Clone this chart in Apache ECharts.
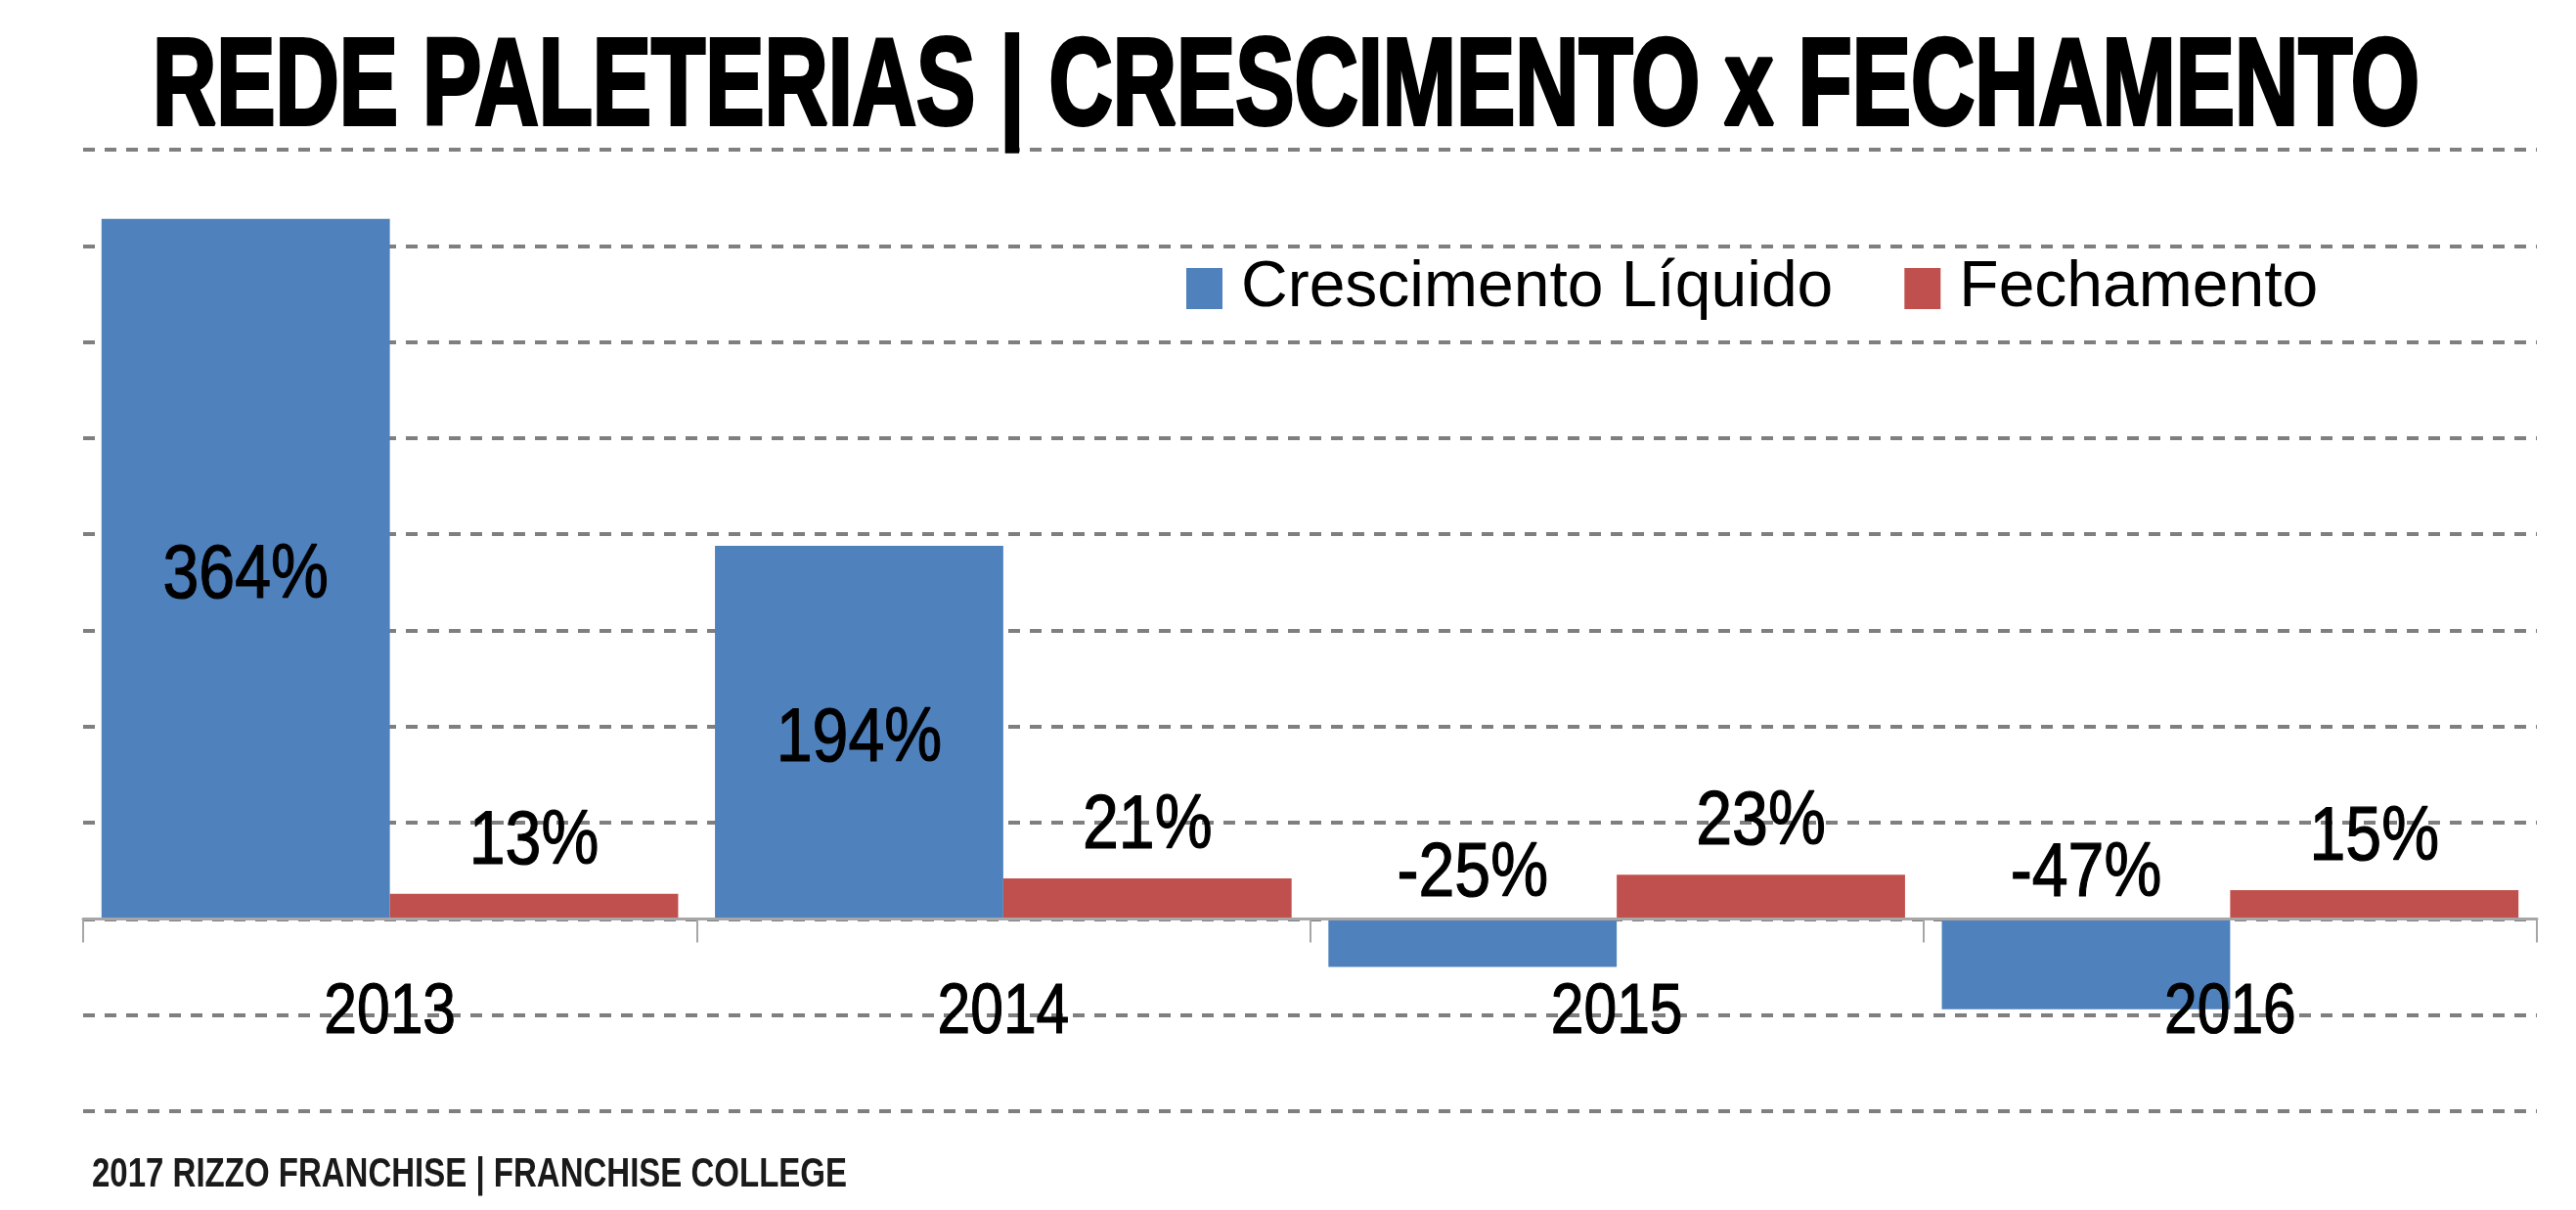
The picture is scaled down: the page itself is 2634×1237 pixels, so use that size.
<!DOCTYPE html>
<html>
<head>
<meta charset="utf-8">
<script src="https://cdn.jsdelivr.net/npm/echarts@6/dist/echarts.min.js"></script>
<style>
html,body{margin:0;padding:0;background:#fff;}
#chart{width:2634px;height:1237px;}
</style>
</head>
<body>
<div id="chart"></div>
<script>
const categories = ['2013', '2014', '2015', '2016'];
const crescimento = [364, 194, -25, -47];
const fechamento = [13, 21, 23, 15];
const seriesNames = ['Crescimento Líquido', 'Fechamento'];
const titleText = 'REDE PALETERIAS | CRESCIMENTO x FECHAMENTO';
const footerText = '2017 RIZZO FRANCHISE | FRANCHISE COLLEGE';

const SANS = '"Liberation Sans", Arial, Helvetica, sans-serif';
const CAT_GAP = 0.06;

function measure(text, font) {
  const c = document.createElement('canvas').getContext('2d');
  c.font = font;
  return c.measureText(text).width;
}
const titleFont = 'bold 126px ' + SANS;
const titleScale = 2318 / measure(titleText, titleFont);
const footerFont = 'bold 42px ' + SANS;
const footerScale = 772 / measure(footerText, footerFont);

const valueFont = '77px ' + SANS;
const catFont = '73px ' + SANS;

// label data built from the value arrays: [categoryIndex, value, seriesIndex]
const labelData = [];
categories.forEach((c, i) => {
  labelData.push([i, crescimento[i], 0]);
  labelData.push([i, fechamento[i], 1]);
});
const catLabelData = categories.map((c, i) => [i, 0]);

function renderValueLabel(params, api) {
  const i = api.value(0), v = api.value(1), s = api.value(2);
  const top = api.coord([i, v]);
  const base = api.coord([i, 0]);
  const catW = api.size([1, 0])[0];
  const barW = catW * (1 - CAT_GAP) / 2;
  const x = top[0] + (s === 0 ? -barW / 2 : barW / 2);
  let cy;
  if (s === 0 && v >= 0) cy = (top[1] + base[1]) / 2 + 2;
  else if (s === 0) cy = base[1] - 51;
  else cy = top[1] - 58;
  return {
    type: 'text',
    x: x,
    y: cy + 6,
    scaleX: 0.86,
    style: { x: 0, y: 0, text: v + '%', font: valueFont, fill: '#000', stroke: '#000', lineWidth: 1.2, align: 'center', verticalAlign: 'middle' }
  };
}

function renderCatLabel(params, api) {
  const i = api.value(0);
  const p = api.coord([i, 0]);
  return {
    type: 'text',
    x: p[0],
    y: p[1] + 90 + 6,
    scaleX: 0.83,
    style: { x: 0, y: 0, text: categories[i], font: catFont, fill: '#000', stroke: '#000', lineWidth: 1.2, align: 'center', verticalAlign: 'middle' }
  };
}

const chart = echarts.init(document.getElementById('chart'), null, { renderer: 'canvas' });
chart.setOption({
  backgroundColor: '#ffffff',
  animation: false,
  grid: { left: 85, right: 40, top: 153, bottom: 101, containLabel: false, outerBoundsMode: 'none' },
  legend: {
    left: 1208,
    top: 250,
    icon: 'rect',
    itemWidth: 37,
    itemHeight: 42,
    itemGap: 73,
    textStyle: { fontFamily: SANS, fontSize: 66, color: '#000', lineHeight: 80, padding: [0, 0, 0, 14] },
    data: seriesNames
  },
  xAxis: {
    type: 'category',
    data: categories,
    z: 10,
    axisLine: { lineStyle: { color: '#a6a6a6', width: 3 } },
    axisTick: { show: true, length: 24, lineStyle: { color: '#a6a6a6', width: 2 } },
    axisLabel: { show: false },
    splitLine: { show: false }
  },
  yAxis: {
    type: 'value',
    min: -100,
    max: 400,
    interval: 50,
    axisLine: { show: false },
    axisTick: { show: false },
    axisLabel: { show: false },
    splitLine: { show: true, lineStyle: { color: '#7f7f7f', width: 4, type: [12, 10] } }
  },
  series: [
    {
      name: seriesNames[0],
      type: 'bar',
      data: crescimento,
      barGap: '0%',
      barCategoryGap: (CAT_GAP * 100) + '%',
      itemStyle: { color: '#4F81BD' }
    },
    {
      name: seriesNames[1],
      type: 'bar',
      data: fechamento,
      barGap: '0%',
      barCategoryGap: (CAT_GAP * 100) + '%',
      itemStyle: { color: '#C0504D' }
    },
    {
      name: 'valueLabels',
      type: 'custom',
      data: labelData,
      encode: { x: 0, y: 1 },
      renderItem: renderValueLabel,
      clip: false,
      silent: true,
      z: 20
    },
    {
      name: 'categoryLabels',
      type: 'custom',
      data: catLabelData,
      encode: { x: 0, y: 1 },
      renderItem: renderCatLabel,
      clip: false,
      silent: true,
      z: 20
    }
  ],
  graphic: [
    {
      type: 'text',
      x: 1315,
      y: 92,
      scaleX: titleScale,
      z: 20,
      style: { x: 0, y: 0, text: titleText, font: titleFont, fill: '#000', stroke: '#000', lineWidth: 4, align: 'center', verticalAlign: 'middle' }
    },
    {
      type: 'text',
      x: 94,
      y: 1201,
      scaleX: footerScale,
      z: 20,
      style: { x: 0, y: 0, text: footerText, font: footerFont, fill: '#1a1a1a', align: 'left', verticalAlign: 'middle' }
    }
  ]
});
</script>
</body>
</html>
